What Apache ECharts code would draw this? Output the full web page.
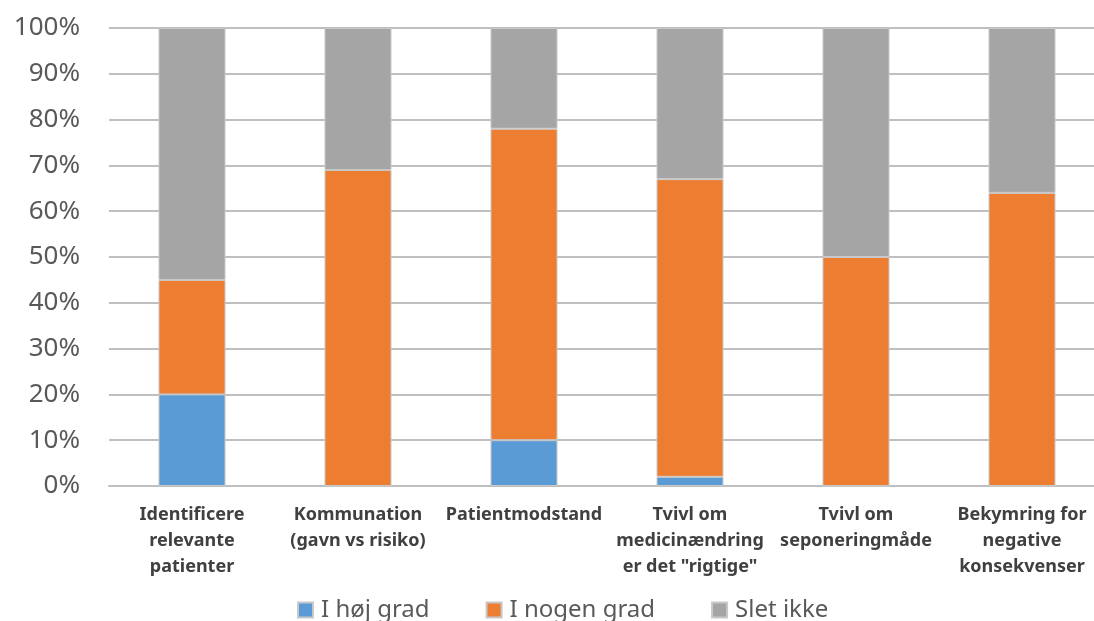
<!DOCTYPE html>
<html>
<head>
<meta charset="utf-8">
<script src="https://cdn.jsdelivr.net/npm/echarts@6/dist/echarts.min.js"></script>
<style>
  html, body { margin: 0; padding: 0; background: #fff; overflow: hidden; }
  /* the plot area runs slightly past the right edge of the window */
  #chart { width: 1110px; height: 621px; }
</style>
</head>
<body>
<div id="chart"></div>
<script>
// Barrierer for medicinændringer: andel svar pr. kategori (%)
const categories = [
  'Identificere\nrelevante\npatienter',
  'Kommunation\n(gavn vs risiko)',
  'Patientmodstand',
  'Tvivl om\nmedicinændring\ner det "rigtige"',
  'Tvivl om\nseponeringmåde',
  'Bekymring for\nnegative\nkonsekvenser'
];
const hojGrad   = [20, 0, 10, 2, 0, 0];
const nogenGrad = [25, 69, 68, 65, 50, 64];
const sletIkke  = [55, 31, 22, 33, 50, 36];
const seriesNames = ['I høj grad', 'I nogen grad', 'Slet ikke'];
const yTicks = [0, 10, 20, 30, 40, 50, 60, 70, 80, 90, 100];

const colors = ['#5B9BD5', '#ED7D31', '#A5A5A5'];
const font = '"Noto Sans", sans-serif';

const chart = echarts.init(document.getElementById('chart'));

function barSeries(name, data, color) {
  return {
    name: name,
    type: 'bar',
    stack: 'total',
    data: data,
    barWidth: 67,
    itemStyle: { color: color, borderColor: '#c8c8c8', borderWidth: 1 }
  };
}

chart.setOption({
  animation: false,
  textStyle: { fontFamily: font },
  grid: { left: 109, width: 996, top: 28, bottom: 135 },
  legend: {
    bottom: -6,
    left: 292,
    itemWidth: 15,
    itemHeight: 15,
    itemGap: 56,
    icon: 'rect',
    textStyle: { fontSize: 24, color: '#595959', fontFamily: font, padding: [0, 0, 0, 3] },
    data: seriesNames
  },
  xAxis: {
    type: 'category',
    data: categories,
    axisLine: { show: true, lineStyle: { color: '#BFBFBF', width: 2 } },
    axisTick: { show: false },
    axisLabel: {
      interval: 0,
      margin: 16,
      fontSize: 18,
      fontWeight: 'bold',
      color: '#404040',
      lineHeight: 26,
      fontFamily: font
    }
  },
  yAxis: {
    type: 'value',
    min: yTicks[0],
    max: yTicks[yTicks.length - 1],
    interval: 10,
    axisLine: { show: false },
    axisTick: { show: false },
    splitLine: { lineStyle: { color: '#BFBFBF', width: 2 } },
    axisLabel: {
      formatter: v => v + '%',
      fontSize: 26,
      color: '#595959',
      margin: 29,
      fontFamily: font
    }
  },
  series: [
    barSeries(seriesNames[0], hojGrad, colors[0]),
    barSeries(seriesNames[1], nogenGrad, colors[1]),
    barSeries(seriesNames[2], sletIkke, colors[2])
  ]
});
</script>
</body>
</html>
